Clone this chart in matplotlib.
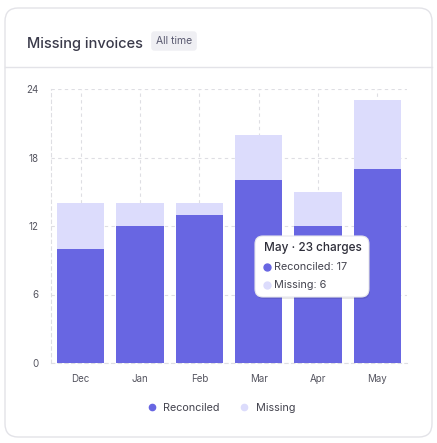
import numpy as np
import matplotlib.pyplot as plt
from matplotlib.patches import FancyBboxPatch
from matplotlib.lines import Line2D

plt.rcParams['font.family'] = ['Inter', 'DejaVu Sans']

# data
months = ["Dec", "Jan", "Feb", "Mar", "Apr", "May"]
reconciled = [10, 12, 13, 16, 12, 17]
missing = [4, 2, 1, 4, 3, 6]
yticks = [0, 6, 12, 18, 24]

c_rec = "#6866e2"
c_mis = "#dcdcfc"
W, H = 437, 443

fig = plt.figure(figsize=(W / 100, H / 100), dpi=100)

def px(x, y):
    return x / W, 1 - y / H

# card
card = FancyBboxPatch(px(5, 437), 427 / W, 429 / H, boxstyle="round,pad=0,rounding_size=0.03",
                      transform=fig.transFigure, facecolor="white", edgecolor="#e3e3e8", lw=1,
                      zorder=-5)
fig.patches.append(card)
fig.add_artist(Line2D([5 / W, 432 / W], [1 - 67 / H] * 2, color="#e3e3e8", lw=1, zorder=-4))

fig.text(*px(27, 44), "Missing invoices", fontsize=10.5, color="#3a3a4a", va="center",
         fontweight="medium")
fig.text(*px(174, 41), "All time", fontsize=7.5, color="#5a5a70", va="center", ha="center",
         bbox=dict(boxstyle="round,pad=0.45,rounding_size=0.3", fc="#efeff3", ec="none"))

# axes
ax = fig.add_axes([51 / W, 80 / H, 356 / W, 274 / H])
ax.set_zorder(2)
ax.patch.set_alpha(0)
x = np.arange(len(months))
ax.bar(x, reconciled, width=0.8, color=c_rec, zorder=3)
ax.bar(x, missing, width=0.8, bottom=reconciled, color=c_mis, zorder=3)

ax.set_xlim(-0.5, len(months) - 0.5)
ax.set_ylim(0, 24)
ax.set_yticks(yticks)
ax.set_xticks(x)
ax.set_xticklabels(months)
ax.tick_params(length=0, labelsize=7, colors="#555560", pad=8)
ax.tick_params(axis="y", pad=9)
ax.grid(True, color="#dedee3", ls=(0, (3, 3)), lw=0.8, zorder=0)
for s in ["top", "right"]:
    ax.spines[s].set_visible(False)
for s in ["left", "bottom"]:
    ax.spines[s].set_color("#dedee3")
    ax.spines[s].set_linestyle((0, (3, 3)))
    ax.spines[s].set_linewidth(0.8)

# tooltip for last month
i = len(months) - 1
tip = FancyBboxPatch(px(255, 297), 114 / W, 61 / H, boxstyle="round,pad=0,rounding_size=0.018",
                     transform=fig.transFigure, facecolor="white", edgecolor="#e6e6ec", lw=0.8,
                     zorder=10)
shadow = FancyBboxPatch(px(256, 299), 114 / W, 61 / H, boxstyle="round,pad=0,rounding_size=0.018",
                        transform=fig.transFigure, facecolor="#00000018", edgecolor="none", zorder=9)
fig.patches.extend([shadow, tip])
fig.text(*px(264, 248), f"{months[i]} · {reconciled[i] + missing[i]} charges", fontsize=8.5,
         color="#2e2e3a", va="center", zorder=11, fontweight="medium")
fig.add_artist(Line2D([267 / W], [1 - 267 / H], marker="o", ms=5, color=c_rec, zorder=11))
fig.text(*px(274, 267), f"Reconciled: {reconciled[i]}", fontsize=7.8, color="#44444f",
         va="center", zorder=11)
fig.add_artist(Line2D([267 / W], [1 - 285 / H], marker="o", ms=5, color=c_mis, zorder=11))
fig.text(*px(274, 285), f"Missing: {missing[i]}", fontsize=7.8, color="#44444f",
         va="center", zorder=11)

# legend
handles = [Line2D([], [], marker="o", ls="", ms=4.5, color=c_rec),
           Line2D([], [], marker="o", ls="", ms=4.5, color=c_mis)]
fig.legend(handles, ["Reconciled", "Missing"], loc="center", bbox_to_anchor=px(218, 408),
           ncol=2, frameon=False, fontsize=7.8, handletextpad=0.1, columnspacing=1.2,
           labelcolor="#44444f")

fig.savefig("out.png", dpi=100)
